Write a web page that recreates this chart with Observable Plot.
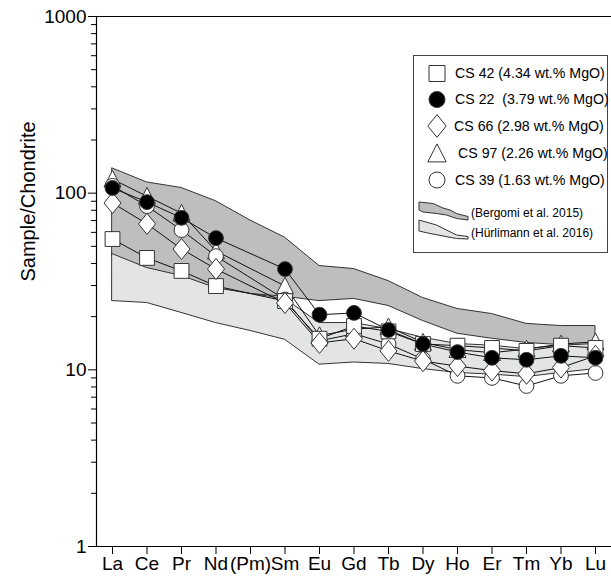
<!DOCTYPE html>
<html><head><meta charset="utf-8">
<script src="https://cdn.jsdelivr.net/npm/d3@7"></script>
<script src="https://cdn.jsdelivr.net/npm/@observablehq/plot@0.6"></script>
<style>
body{margin:0;background:#fff;font-family:"Liberation Sans",Arial,sans-serif;}
#wrap{position:relative;width:611px;height:577px;}
#legend{position:absolute;left:413px;top:55px;}
</style></head><body><div id="wrap"></div>
<script>
// ---- data ----
const elements = ["La","Ce","Pr","Nd","(Pm)","Sm","Eu","Gd","Tb","Dy","Ho","Er","Tm","Yb","Lu"];
const cs42 = [55, 43, 36.3, 29.8, null, 24.5, 15.0, 17.7, 16.5, 14.0, 13.7, 13.3, 12.8, 13.7, 13.3];
const cs22 = [107, 89, 72.5, 55.7, null, 37.2, 20.5, 21.0, 16.8, 14.0, 12.6, 11.7, 11.4, 12.0, 11.7];
const cs66 = [88, 67, 48.3, 37.2, null, 23.9, 14.2, 15.0, 12.8, 11.2, 10.5, 9.9, 9.5, 10.3, 12.0];
const cs97 = [120, 96, 77, 47, null, 29.8, 15.6, 17.0, 17.5, 14.3, 13.0, 12.5, 13.1, 14.0, 14.4];
const cs39 = [110, 84.5, 61.8, 44, null, 25.0, 14.6, 16.0, 14.0, 11.5, 9.25, 9.0, 8.1, 9.25, 9.6];
const bergomiUpper = [138, 115, 107, 90, 70, 56, 38.7, 37.2, 31.8, 25.5, 22.1, 20.7, 18.2, 17.7, 17.7];
const bergomiLower = [44, 37.2, 33.5, 28.7, 26.9, 25.9, 24.5, 25.2, 23.0, 18.9, 16.0, 15.0, 14.2, 13.8, 13.7];
const hurlUpper = [45.2, 37.7, 34.0, 29.0, 26.9, 25.2, 18.4, 18.4, 17.0, 15.2, 14.0, 13.7, 13.1, 13.7, 14.0];
const hurlLower = [24.5, 23.9, 21.0, 18.4, 16.6, 14.8, 10.7, 11.0, 10.8, 10.1, 9.6, 9.4, 9.1, 9.6, 10.1];
const yMajor = [1, 10, 100, 1000];
const yMinor = [2,3,4,5,6,7,8,9,20,30,40,50,60,70,80,90,200,300,400,500,600,700,800,900];
const legendLabels = ["CS 42 (4.34 wt.% MgO)","CS 22  (3.79 wt.% MgO)","CS 66 (2.98 wt.% MgO)","CS 97 (2.26 wt.% MgO)","CS 39 (1.63 wt.% MgO)"];
const bandLabels = ["(Bergomi et al. 2015)","(Hürlimann et al. 2016)"];

// ---- symbols ----
const rad = s => Math.sqrt(s / Math.PI);
const symSquare = {draw(c, s){const r = rad(s); c.moveTo(-r,-r); c.lineTo(r,-r); c.lineTo(r,r); c.lineTo(-r,r); c.closePath();}};
const symDiamond = {draw(c, s){const r = rad(s), w = 1.15*r, h = 1.42*r; c.moveTo(0,-h); c.lineTo(w,0); c.lineTo(0,h); c.lineTo(-w,0); c.closePath();}};
const symTriangle = {draw(c, s){const r = rad(s); c.moveTo(0,-1.2*r); c.lineTo(1.15*r,1.05*r); c.lineTo(-1.15*r,1.05*r); c.closePath();}};
const symCircle = {draw(c, s){const r = rad(s); c.moveTo(r,0); c.arc(0,0,r,0,2*Math.PI);}};

const samples = [
  {name:"CS 97", values:cs97, symbol:symTriangle, fill:"white"},
  {name:"CS 39", values:cs39, symbol:symCircle, fill:"white"},
  {name:"CS 42", values:cs42, symbol:symSquare, fill:"white"},
  {name:"CS 66", values:cs66, symbol:symDiamond, fill:"white"},
  {name:"CS 22", values:cs22, symbol:symCircle, fill:"black"}
];

const rows = samples.flatMap(s => s.values.map((v,i) => ({name:s.name, i, v})).filter(d => d.v != null));
const bands = elements.map((e,i) => ({i, bu:bergomiUpper[i], bl:bergomiLower[i], hu:hurlUpper[i], hl:hurlLower[i]}));

const X_MIN = -0.464, X_MAX = 14.464;

const chart = Plot.plot({
  width: 611, height: 577,
  marginLeft: 96, marginRight: 0, marginTop: 16, marginBottom: 31,
  x: {domain: [X_MIN, X_MAX]},
  y: {type: "log", domain: [1, 1000]},
  style: {fontFamily: "'Liberation Sans', Arial, sans-serif", fontSize: "19px", background: "white", color: "black"},
  marks: [
    Plot.areaY(bands, {x:"i", y1:"bl", y2:"bu", fill:"#bebebe", stroke:"#333", strokeWidth:1}),
    Plot.areaY(bands, {x:"i", y1:"hl", y2:"hu", fill:"#e3e5e5", stroke:"#333", strokeWidth:1}),
    Plot.line(rows, {x:"i", y:"v", z:"name", stroke:"#111", strokeWidth:1}),
    ...samples.map(s => Plot.dot(rows.filter(d => d.name === s.name), {
      x:"i", y:"v", symbol: s.symbol, r: 7.4, fill: s.fill, stroke:"#333", strokeWidth:1
    })),
    Plot.axisY({ticks: yMinor, tickSize: 5, tickFormat: () => "", label: null}),
    Plot.axisY({ticks: yMajor, tickSize: 8, tickPadding: 2, tickFormat: d => String(d), fontSize: 19, label: null}),
    Plot.axisX({ticks: d3.range(elements.length), tickSize: 8, tickPadding: 2, tickFormat: i => elements[i], fontSize: 19, label: null}),
    Plot.ruleY([1000, 1], {stroke:"black", strokeWidth:1}),
    Plot.ruleX([X_MIN], {stroke:"black", strokeWidth:1.2}),
    Plot.text(["Sample/Chondrite"], {frameAnchor:"left", rotate:-90, dx:-68, fontSize:20, fill:"black"})
  ]
});
const wrap = document.getElementById("wrap");
wrap.appendChild(chart);

// ---- legend overlay ----
const lw = 194, lh = 197;
const lsvg = d3.create("svg").attr("id","legend").attr("width", lw+2).attr("height", lh+2)
  .style("font-family","'Liberation Sans', Arial, sans-serif");
lsvg.append("rect").attr("x",0.5).attr("y",0.5).attr("width",lw).attr("height",lh)
  .attr("fill","white").attr("stroke","#444").attr("stroke-width",1);
const legendSyms = [symSquare, symCircle, symDiamond, symTriangle, symCircle];
const legendFills = ["white","black","white","white","white"];
const rowsY = [18.5, 44.5, 71, 98.5, 125];
const textX = [42, 42, 41, 45, 42];
legendLabels.forEach((lab, k) => {
  const p = d3.path(); legendSyms[k].draw(p, Math.PI*8*8);
  lsvg.append("path").attr("d", p.toString()).attr("transform",`translate(24,${rowsY[k]})`)
    .attr("fill", legendFills[k]).attr("stroke","#333").attr("stroke-width",1);
  lsvg.append("text").attr("x", textX[k]).attr("y", rowsY[k]).attr("dy","0.35em")
    .attr("font-size", 14.2).style("white-space","pre").text(lab);
});
// band icons
lsvg.append("path").attr("d","M6,147 L20,148.5 L30,153 L37,155 L43.5,158.5 L55,161.5 L55,165 L43.5,163.5 L33.5,160 L23.5,158.5 L10,157 L6,155 Z")
  .attr("fill","#bebebe").attr("stroke","#333").attr("stroke-width",1);
lsvg.append("path").attr("d","M6,165 L23.5,170 L43.5,180 L55,181.5 L55,184 L43.5,183.5 L17,178.5 L6,176 Z")
  .attr("fill","#e3e5e5").attr("stroke","#333").attr("stroke-width",1);
lsvg.append("text").attr("x",58).attr("y",157.5).attr("dy","0.35em").attr("font-size",12).text(bandLabels[0]);
lsvg.append("text").attr("x",58).attr("y",178).attr("dy","0.35em").attr("font-size",12).text(bandLabels[1]);
wrap.appendChild(lsvg.node());
</script></body></html>
